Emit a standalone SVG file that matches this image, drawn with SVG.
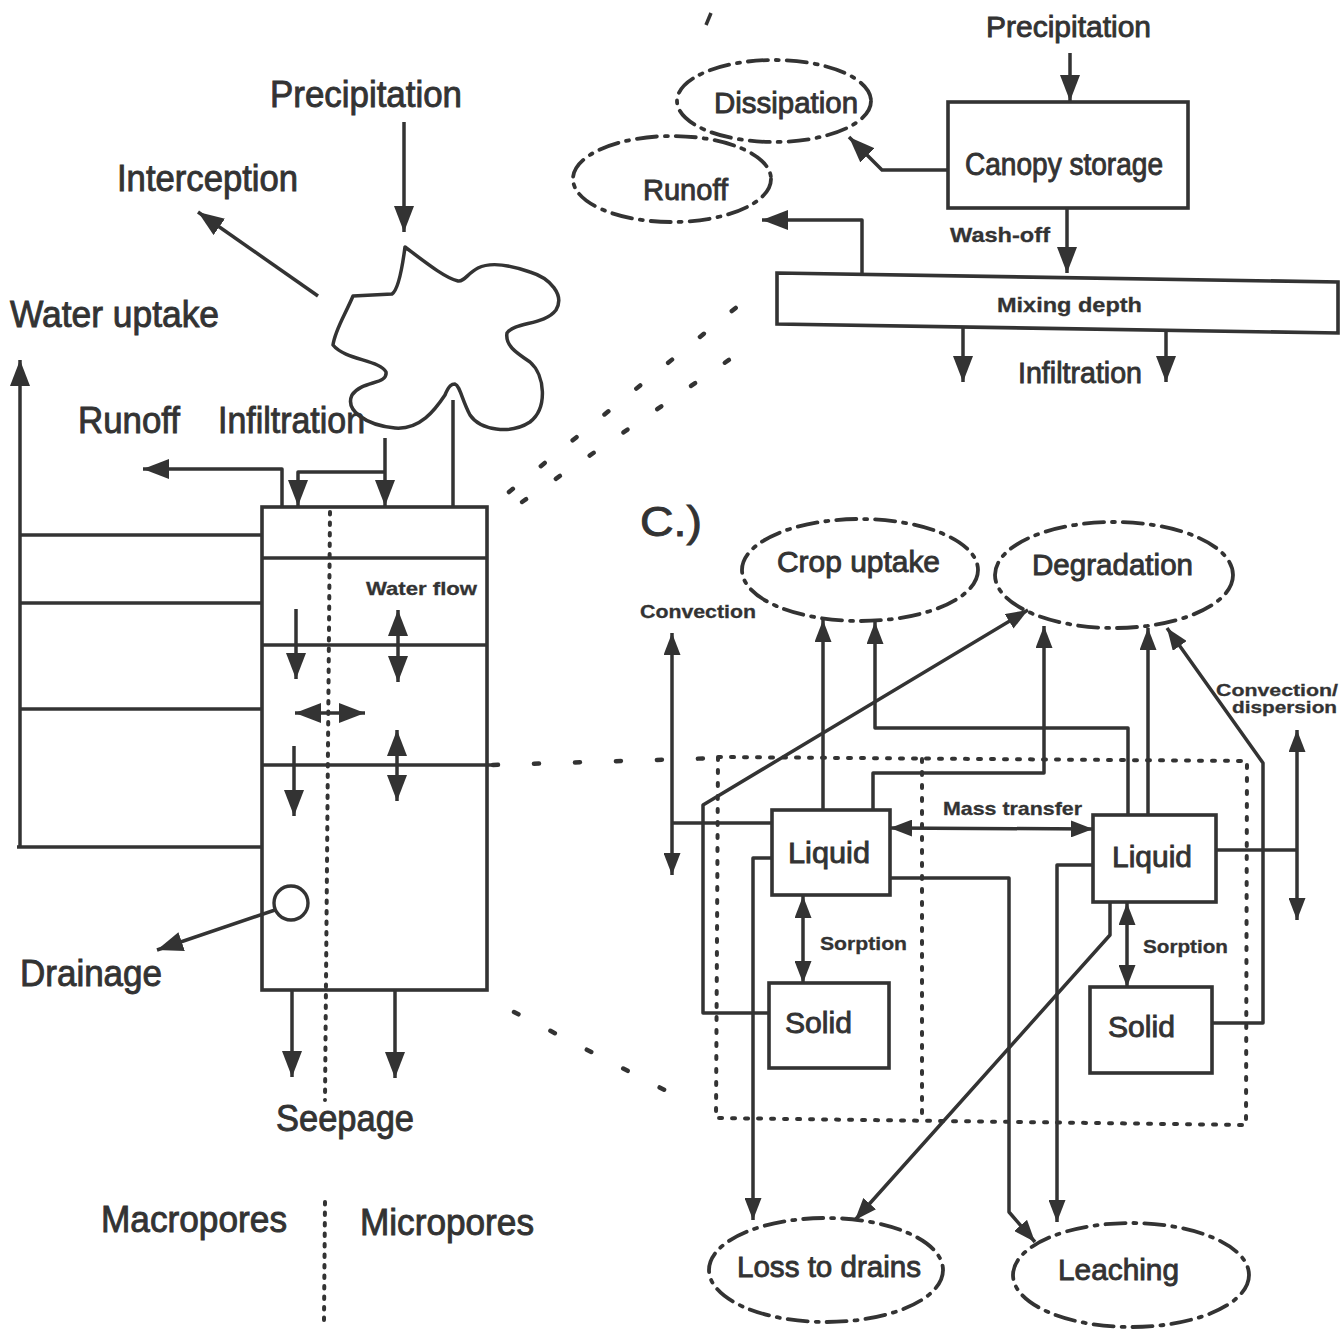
<svg xmlns="http://www.w3.org/2000/svg" width="1341" height="1329" viewBox="0 0 1341 1329">
<style>
  .ln{fill:none;stroke:#333;stroke-width:3.5;stroke-linejoin:round}
  .box{fill:none;stroke:#333;stroke-width:3.6}
  .dot{fill:none;stroke:#333;stroke-width:4;stroke-linecap:round;stroke-dasharray:2.5 8}
  .dotr{fill:none;stroke:#333;stroke-width:4;stroke-linecap:round;stroke-dasharray:3 10}
  .dsh{fill:none;stroke:#333;stroke-width:4.5;stroke-linecap:round;stroke-dasharray:5 36}
  .ell{fill:none;stroke:#333;stroke-width:3.8;stroke-linecap:round;stroke-dasharray:20 8 3 8}
  .lg{font-family:"Liberation Sans",Arial,sans-serif;fill:#333;stroke:#333;stroke-width:0.9}
  .sm{font-family:"Liberation Sans",Arial,sans-serif;font-weight:bold;fill:#333;stroke:#333;stroke-width:0.3}
  .a{marker-end:url(#ah)}
  .b{marker-start:url(#ah);marker-end:url(#ah)}
  .c{marker-end:url(#ac)}
  .cb{marker-start:url(#ac);marker-end:url(#ac)}
</style>
<defs>
  <marker id="ah" markerUnits="userSpaceOnUse" markerWidth="26" markerHeight="20" refX="26" refY="10" orient="auto-start-reverse" viewBox="0 0 26 20">
    <path d="M0,0 L26,10 L0,20 z" fill="#333"/>
  </marker>
  <marker id="ac" markerUnits="userSpaceOnUse" markerWidth="22" markerHeight="17" refX="22" refY="8.5" orient="auto-start-reverse" viewBox="0 0 22 17">
    <path d="M0,0 L22,8.5 L0,17 z" fill="#333"/>
  </marker>
</defs>
<rect width="1341" height="1329" fill="#ffffff"/>

<!-- ===== Left panel nodes ===== -->
<g id="left-labels">
  <text class="lg" x="270" y="107" font-size="36" textLength="192" lengthAdjust="spacingAndGlyphs">Precipitation</text>
  <text class="lg" x="117" y="191" font-size="36" textLength="181" lengthAdjust="spacingAndGlyphs">Interception</text>
  <text class="lg" x="10" y="327" font-size="36" textLength="209" lengthAdjust="spacingAndGlyphs">Water uptake</text>
  <text class="lg" x="78" y="433" font-size="36" textLength="102" lengthAdjust="spacingAndGlyphs">Runoff</text>
  <text class="lg" x="218" y="433" font-size="36" textLength="147" lengthAdjust="spacingAndGlyphs">Infiltration</text>
  <text class="lg" x="20" y="986" font-size="36" textLength="142" lengthAdjust="spacingAndGlyphs">Drainage</text>
  <text class="lg" x="276" y="1131" font-size="36" textLength="138" lengthAdjust="spacingAndGlyphs">Seepage</text>
  <text class="lg" x="101" y="1232" font-size="36" textLength="186" lengthAdjust="spacingAndGlyphs">Macropores</text>
  <text class="lg" x="360" y="1235" font-size="36" textLength="174" lengthAdjust="spacingAndGlyphs">Micropores</text>
</g>

<g id="canopy-cloud">
  <path class="ln" stroke-width="3.8" d="M405,247 C402,270 398,290 392,294 L353,296 C345,315 335,330 333,345 C345,360 380,360 386,372 C388,385 362,380 352,395 C345,410 365,425 395,428 C420,430 435,410 445,395 C449,385 452,384 455,384 C460,386 462,400 470,415 C480,430 510,435 530,422 C548,408 545,375 530,362 C515,352 505,345 507,333 C515,322 545,325 556,310 C565,295 550,278 530,272 C510,265 490,262 478,268 C468,273 464,282 458,281 C445,278 425,262 405,247 Z"/>
</g>

<g id="soil-column">
  <rect class="box" x="262" y="507" width="225" height="483"/>
  <line class="ln" x1="262" y1="558" x2="487" y2="558"/>
  <line class="ln" x1="262" y1="645" x2="487" y2="645"/>
  <line class="ln" x1="262" y1="765" x2="492" y2="765"/>
  <text class="sm" x="366" y="595" font-size="19" textLength="111" lengthAdjust="spacingAndGlyphs">Water flow</text>
  <circle cx="291" cy="903" r="17" fill="#fff" stroke="#333" stroke-width="3.4"/>
</g>

<g id="root-zone">
  <line class="ln" x1="20" y1="535" x2="262" y2="535"/>
  <line class="ln" x1="20" y1="603" x2="262" y2="603"/>
  <line class="ln" x1="20" y1="709" x2="262" y2="709"/>
  <line class="ln" x1="17" y1="847" x2="262" y2="847"/>
</g>

<g id="pore-divider">
  <line class="dot" x1="330" y1="512" x2="325" y2="1100"/>
  <line class="dot" x1="325" y1="1202" x2="324" y2="1320"/>
</g>

<!-- ===== Top-right panel nodes ===== -->
<g id="tr-precipitation">
  <text class="lg" x="986" y="37" font-size="30" textLength="165" lengthAdjust="spacingAndGlyphs">Precipitation</text>
  <line class="ln" x1="706" y1="25" x2="711" y2="13"/>
</g>
<g id="canopy-storage">
  <rect class="box" x="948" y="102" width="240" height="106"/>
  <text class="lg" x="965" y="175" font-size="31" textLength="198" lengthAdjust="spacingAndGlyphs">Canopy storage</text>
</g>
<g id="dissipation">
  <ellipse class="ell" cx="774" cy="101" rx="97" ry="41"/>
  <text class="lg" x="714" y="113" font-size="30" textLength="144" lengthAdjust="spacingAndGlyphs">Dissipation</text>
</g>
<g id="tr-runoff">
  <ellipse class="ell" cx="672" cy="179" rx="99" ry="43"/>
  <text class="lg" x="643" y="200" font-size="30" textLength="85" lengthAdjust="spacingAndGlyphs">Runoff</text>
</g>
<g id="mixing-depth">
  <polygon class="box" points="777,273 1338,282 1338,333 777,324"/>
  <text class="sm" x="997" y="312" font-size="21" textLength="145" lengthAdjust="spacingAndGlyphs">Mixing depth</text>
</g>
<g id="tr-labels">
  <text class="sm" x="950" y="242" font-size="21" textLength="100" lengthAdjust="spacingAndGlyphs">Wash-off</text>
  <text class="lg" x="1018" y="383" font-size="30" textLength="124" lengthAdjust="spacingAndGlyphs">Infiltration</text>
</g>

<!-- ===== C panel nodes ===== -->
<g id="c-label">
  <text class="lg" x="640" y="536" font-size="42" textLength="62" lengthAdjust="spacingAndGlyphs" stroke-width="0.4">C.)</text>
</g>
<g id="crop-uptake">
  <ellipse class="ell" cx="860" cy="570" rx="118" ry="51"/>
  <text class="lg" x="777" y="572" font-size="30" textLength="163" lengthAdjust="spacingAndGlyphs">Crop uptake</text>
</g>
<g id="degradation">
  <ellipse class="ell" cx="1114" cy="575" rx="119" ry="53"/>
  <text class="lg" x="1032" y="575" font-size="30" textLength="161" lengthAdjust="spacingAndGlyphs">Degradation</text>
</g>
<g id="loss-to-drains">
  <ellipse class="ell" cx="826" cy="1270" rx="117" ry="52"/>
  <text class="lg" x="737" y="1277" font-size="30" textLength="184" lengthAdjust="spacingAndGlyphs">Loss to drains</text>
</g>
<g id="leaching">
  <ellipse class="ell" cx="1131" cy="1275" rx="118" ry="52"/>
  <text class="lg" x="1058" y="1280" font-size="30" textLength="121" lengthAdjust="spacingAndGlyphs">Leaching</text>
</g>
<g id="compartments">
  <path class="dotr" d="M718,757 L1247,761 L1246,1125 L716,1118 Z"/>
  <line class="dotr" x1="922" y1="759" x2="922" y2="1120"/>
</g>
<g id="liquid-1">
  <rect class="box" x="772" y="810" width="118" height="85"/>
  <text class="lg" x="788" y="863" font-size="30" textLength="82" lengthAdjust="spacingAndGlyphs">Liquid</text>
</g>
<g id="solid-1">
  <rect class="box" x="769" y="983" width="120" height="85"/>
  <text class="lg" x="785" y="1033" font-size="30" textLength="67" lengthAdjust="spacingAndGlyphs">Solid</text>
</g>
<g id="liquid-2">
  <rect class="box" x="1093" y="815" width="123" height="87"/>
  <text class="lg" x="1112" y="867" font-size="30" textLength="80" lengthAdjust="spacingAndGlyphs">Liquid</text>
</g>
<g id="solid-2">
  <rect class="box" x="1090" y="987" width="122" height="86"/>
  <text class="lg" x="1108" y="1037" font-size="30" textLength="67" lengthAdjust="spacingAndGlyphs">Solid</text>
</g>
<g id="c-labels">
  <text class="sm" x="640" y="618" font-size="19" textLength="116" lengthAdjust="spacingAndGlyphs">Convection</text>
  <text class="sm" x="943" y="815" font-size="19" textLength="139" lengthAdjust="spacingAndGlyphs">Mass transfer</text>
  <text class="sm" x="820" y="950" font-size="19" textLength="87" lengthAdjust="spacingAndGlyphs">Sorption</text>
  <text class="sm" x="1143" y="953" font-size="19" textLength="85" lengthAdjust="spacingAndGlyphs">Sorption</text>
  <text class="sm" x="1216" y="696" font-size="17" textLength="122" lengthAdjust="spacingAndGlyphs">Convection/</text>
  <text class="sm" x="1232" y="713" font-size="17" textLength="105" lengthAdjust="spacingAndGlyphs">dispersion</text>
</g>

<!-- ===== Connectors ===== -->
<g id="connectors">
  <!-- left panel -->
  <line class="ln a" x1="404" y1="122" x2="404" y2="232"/>
  <line class="ln a" x1="318" y1="296" x2="198" y2="212"/>
  <path class="ln a" d="M20,847 V360"/>
  <line class="ln" x1="453" y1="400" x2="453" y2="507"/>
  <path class="ln a" d="M282,507 V469 H143"/>
  <line class="ln a" x1="385" y1="438" x2="385" y2="506"/>
  <path class="ln a" d="M385,472 H298 V506"/>
  <line class="ln a" x1="296" y1="609" x2="296" y2="679"/>
  <line class="ln b" x1="398" y1="610" x2="398" y2="682"/>
  <line class="ln b" x1="295" y1="713" x2="365" y2="713"/>
  <line class="ln a" x1="294" y1="746" x2="294" y2="816"/>
  <line class="ln b" x1="397" y1="730" x2="397" y2="801"/>
  <line class="ln a" x1="275" y1="910" x2="157" y2="950"/>
  <line class="ln a" x1="292" y1="990" x2="292" y2="1077"/>
  <line class="ln a" x1="395" y1="990" x2="395" y2="1078"/>
  <!-- zoom lines -->
  <line class="dsh" x1="509" y1="492" x2="743" y2="302"/>
  <line class="dsh" x1="522" y1="502" x2="755" y2="342"/>
  <line class="dsh" stroke-dasharray="5 25" x1="493" y1="765" x2="718" y2="758"/>
  <line class="dsh" x1="514" y1="1012" x2="682" y2="1099"/>
  <!-- top-right panel -->
  <line class="ln a" x1="1070" y1="53" x2="1070" y2="101"/>
  <path class="ln a" d="M948,170 H882 L849,137"/>
  <line class="ln a" x1="1067" y1="208" x2="1067" y2="273"/>
  <path class="ln a" d="M862,276 V220 H762"/>
  <line class="ln a" x1="963" y1="327" x2="963" y2="382"/>
  <line class="ln a" x1="1166" y1="332" x2="1166" y2="382"/>
  <!-- C panel -->
  <line class="ln cb" x1="672" y1="633" x2="672" y2="875"/>
  <line class="ln" x1="672" y1="823" x2="772" y2="823"/>
  <path class="ln c" d="M823,810 V620"/>
  <path class="ln c" d="M1128,815 V728 H875 V622"/>
  <path class="ln c" d="M873,810 V773 H1044 V626"/>
  <path class="ln c" d="M1148,815 V628"/>
  <path class="ln c" d="M1212,1023 H1263 V763 L1167,628"/>
  <path class="ln c" d="M769,1013 H703 V805 L1028,610"/>
  <path class="ln c" d="M772,858 H753 V1220"/>
  <path class="ln c" d="M890,878 H1009 V1212 L1035,1242"/>
  <path class="ln c" d="M1093,865 H1057 V1222"/>
  <path class="ln c" d="M1110,902 V935 L855,1220"/>
  <line class="ln cb" x1="890" y1="828" x2="1093" y2="829"/>
  <line class="ln cb" x1="803" y1="896" x2="803" y2="983"/>
  <line class="ln cb" x1="1127" y1="903" x2="1127" y2="987"/>
  <line class="ln" x1="1216" y1="850" x2="1297" y2="850"/>
  <line class="ln cb" x1="1297" y1="730" x2="1297" y2="920"/>
</g>
</svg>
